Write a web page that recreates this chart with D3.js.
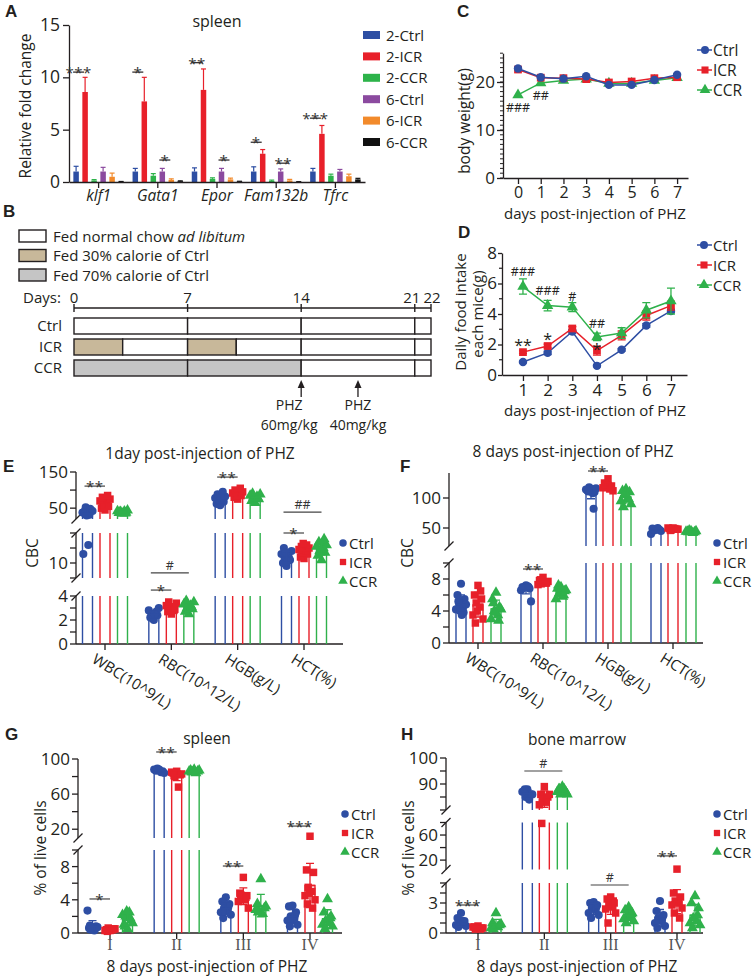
<!DOCTYPE html>
<html><head><meta charset="utf-8">
<script src="https://cdn.jsdelivr.net/npm/d3@7/dist/d3.min.js"></script>
<style>
html,body{margin:0;padding:0;background:#fff;}
svg{display:block;font-family:"Open Sans","Noto Sans",sans-serif;}
</style></head><body>
<svg id="fig" width="754" height="979"></svg>
<script>
// ================= DATA =================
// Panel A
const aGenes = ["klf1","Gata1","Epor","Fam132b","Tfrc"];
const aSeries = ["2-Ctrl","2-ICR","2-CCR","6-Ctrl","6-ICR","6-CCR"];
const a2Ctrl = [1.0,1.0,1.0,1.0,1.0];
const a2ICR  = [8.6,7.7,8.8,2.7,4.6];
const a2CCR  = [0.15,0.6,0.3,0.1,0.6];
const a6Ctrl = [1.0,1.0,1.0,1.0,1.0];
const a6ICR  = [0.5,0.2,0.25,0.15,0.55];
const a6CCR  = [0.03,0.08,0.05,0.02,0.25];
const a2CtrlErr = [0.5,0.3,0.35,0.45,0.3];
const a2ICRErr  = [1.4,2.3,2.0,0.4,0.8];
const a2CCRErr  = [0.08,0.2,0.1,0.08,0.15];
const a6CtrlErr = [0.4,0.3,0.3,0.25,0.2];
const a6ICRErr  = [0.35,0.1,0.12,0.1,0.2];
const a6CCRErr  = [0.02,0.03,0.02,0.01,0.1];
const aSigGene = [0,1,1,2,2,3,3,4];
const aSigFrom = [0,0,3,0,3,0,3,0];
const aSigTo   = [1,1,4,1,4,1,4,1];
const aSigY    = [10.5,10.5,2.1,11.4,2.1,3.8,1.8,6.1];
const aSigText = ["***","*","*","**","*","*","**","***"];

// Panel B
const bLegendText = ["Fed normal chow ","Fed 30% calorie of Ctrl","Fed 70% calorie of Ctrl"];
const bDays = [0,7,14,21,22];
const bGroups = ["Ctrl","ICR","CCR"];
const bCtrlBlocks = [[0,7,0],[7,14,0],[14,21,0],[21,22,0]];
const bICRBlocks  = [[0,3,1],[3,7,0],[7,10,1],[10,14,0],[14,21,0],[21,22,0]];
const bCCRBlocks  = [[0,7,2],[7,14,2],[14,21,0],[21,22,0]];
const bInjDay  = [14,17.5];
const bInjDose = ["60mg/kg","40mg/kg"];

// Panel C
const cDays = [0,1,2,3,4,5,6,7];
const cCtrl = [22.8,21.0,20.7,21.2,19.4,19.4,20.4,21.5];
const cICR  = [22.6,20.9,20.8,20.6,19.9,20.1,20.8,21.0];
const cCCR  = [17.3,19.8,20.3,20.6,19.7,19.7,20.3,20.9];
const cNoteDay = [0,1];
const cNoteY = [14.8,17.3];
const cNoteText = ["###","##"];

// Panel D
const dDays = [1,2,3,4,5,6,7];
const dCtrl = [0.85,1.45,2.85,0.6,1.65,3.25,4.2];
const dICR  = [1.5,1.9,3.05,1.6,2.6,3.9,4.55];
const dCCR  = [5.8,4.55,4.45,2.5,2.75,4.25,4.85];
const dCtrlErr = [0.06,0.12,0.1,0.06,0.08,0.12,0.1];
const dICRErr  = [0.08,0.12,0.12,0.3,0.3,0.3,0.3];
const dCCRErr  = [0.5,0.35,0.3,0.25,0.35,0.5,0.85];
const dNoteDay = [1,2,3,4,1,2,4];
const dNoteY = [6.8,5.57,5.18,3.4,2.1,2.5,1.84];
const dNoteText = ["###","###","#","##","**","*","*"];

// Panel E (1 day CBC)
const eCats = ["WBC(10^9/L)","RBC(10^12/L)","HGB(g/L)","HCT(%)"];
const eCtrl = [[36,40,45,52,32,38,42,35,48,30,16,13],[2.0,2.2,2.4,2.5,2.6,2.8,3.0,2.3,2.7,2.1,2.5],[58,62,68,72,75,78,82,88,95,70,76],[9,10,11,12,12.5,13,14,15,11.5,13.5,10.5]];
const eICR  = [[45,50,55,60,65,70,75,80,85,52],[2.5,2.7,2.9,3.0,3.1,3.2,3.4,3.5,2.8],[75,80,85,88,90,92,95,100,105,83],[11.5,12,13,13.5,14,14.5,15,15.5,16,16.5]];
const eCCR  = [[35,37,38,40,41,42,44,39,36],[2.5,2.7,2.9,3.0,3.2,3.3,3.5,3.6,3.1],[65,70,75,80,82,85,88,90,78],[11,12.5,13.5,14,15,15.5,16,17,18,14.5]];
const eSig = [[0,0,1,111,"**"],[1,0,2,6.7,"#"],[1,0,1,4.33,"*"],[2,0,1,136,"**"],[3,0,2,39,"##"],[3,0,1,20,"*"]];

// Panel F (8 days CBC)
const fCtrl = [[7.4,6.0,5.5,5.0,4.5,4.2,4.8,5.2,3.8,4.0,3.5],[7.2,7.0,6.8,6.9,7.1,6.6,5.2,6.9,7.0],[115,112,110,118,108,114,116,111,82],[48,49,47,46,50,40,45,48,47]];
const fICR  = [[7.2,6.0,5.5,5.0,4.5,3.5,3.0,2.5,6.5,4.0],[8.2,7.8,7.5,7.4,7.6,7.3,7.7,7.9,7.5],[132,125,120,118,115,117,112,122,119],[50,49,48,47,49,50,48,46]];
const fCCR  = [[6.3,5.5,4.5,4.0,3.5,3.0,4.2,5.0,2.8,3.8],[7.0,6.8,6.5,6.2,5.8,5.5,6.6,7.2,6.0],[115,112,110,105,100,95,90,85,98,108],[45,44,43,46,42,44,45,43]];
const fSig = [[1,0,1,9.25,"**"],[2,0,1,145,"**"]];

// Panel G (spleen)
const gCats = ["I","II","III","IV"];
const gCtrl = [[0.5,0.6,0.8,0.4,0.3,2.7,0.7,0.9,0.5,0.6],[88,87,86,89,85,88,84,87],[4.3,3.8,3.5,3.0,2.8,2.5,2.2,1.8,3.2,2.6],[3.3,3.2,2.5,2.0,1.8,1.5,1.0,0.8,2.2,1.6]];
const gICR  = [[0.3,0.4,0.5,0.6,0.4,0.3,0.5,0.2,0.4],[86,84,82,80,68,85,83,81],[6.7,4.8,4.5,4.2,4.0,3.8,3.0,4.6,4.3],[12,7.6,7.3,5.5,5.0,4.5,4.0,3.5,3.0,4.8]];
const gCCR  = [[0.5,1.0,1.5,2.0,2.5,2.2,1.2,0.8,1.8,2.6],[88,87,86,85,84,86,87,85],[6.5,3.5,3.0,2.6,2.3,2.8,3.2,2.5],[4.1,2.5,2.0,1.5,1.2,1.0,0.8,0.5,1.8]];
const gSig = [[0,0,1,4.1,"*"],[1,0,1,108,"**"],[2,0,1,8.07,"**"],[3,0,1,23.6,"***"]];

// Panel H (bone marrow)
const hCtrl = [[2.0,1.5,1.2,1.0,0.9,0.8,0.7,0.6,1.1],[88,87,86,85,84,87,86,88],[3.1,3.0,2.8,2.5,2.3,2.0,1.8,1.5,2.6],[3.2,2.2,1.8,1.5,1.2,1.0,0.7,0.5,1.6]];
const hICR  = [[0.7,0.6,0.5,0.5,0.4,0.6,0.5,0.4],[89,86,85,84,83,82,86,78.5],[3.6,3.4,3.0,2.8,2.6,2.4,2.0,1.0,3.2],[5.6,4.0,3.6,3.2,3.0,2.8,2.5,2.0,1.5]];
const hCCR  = [[2.0,1.0,0.8,0.7,0.6,0.5,0.9,0.4],[89,88,87,86,88,87,86,88],[2.6,2.3,2.0,1.8,1.6,1.4,1.2,1.0,1.9],[3.7,3.0,2.5,1.5,1.2,1.0,0.8,0.5,1.8]];
const hSig = [[0,0,1,2.8,"***"],[1,0,2,95,"#"],[2,0,2,4.8,"#"],[3,0,1,26.7,"**"]];

const groupNames = ["Ctrl","ICR","CCR"];

// ================= STYLE =================
const INK = "#231f20";
const FONT = "'Open Sans','Noto Sans',sans-serif";
const aColors = ["#2d4ea3","#e8202a","#2db34a","#8b4a9f","#f28a2b","#111111"];
const gColors = ["#2e4ea3","#e7202a","#2fb14b"];
const symbols = [d3.symbolCircle,d3.symbolSquare,d3.symbolTriangle];
const symSize = [52,56,52];
const svg = d3.select("#fig");

function text(g,x,y,s,size,anchor,extra){
  const t = g.append("text").attr("x",x).attr("y",y).attr("font-size",size)
    .attr("text-anchor",anchor||"start").attr("fill",INK).text(s);
  if(extra) extra(t);
  return t;
}
function letter(x,y,s){
  svg.append("text").attr("x",x).attr("y",y).attr("font-family","'Liberation Sans',Arial,sans-serif")
    .attr("font-weight","bold").attr("font-size",17).attr("fill",INK).text(s);
}
function styleAxis(sel,fs){
  sel.attr("font-family",FONT);
  sel.selectAll("path.domain").attr("stroke",INK).attr("stroke-width",1.3);
  sel.selectAll(".tick line").attr("stroke",INK).attr("stroke-width",1.3);
  sel.selectAll(".tick text").attr("fill",INK).attr("font-size",fs);
}
function sigText(g,x,y,t){
  const isStar = t.indexOf("*")>=0;
  text(g,x,isStar? y+6 : y-3, t, isStar?15:12.5,"middle", s=>s.attr("letter-spacing",isStar?0.5:0).attr("fill","#333"));
}

// ================= PANEL A =================
(function(){
  const g = svg.append("g");
  const x = d3.scaleBand().domain(aGenes).range([69,365]);
  const y = d3.scaleLinear().domain([0,15]).range([182,25]);
  const vals = [a2Ctrl,a2ICR,a2CCR,a6Ctrl,a6ICR,a6CCR];
  const errs = [a2CtrlErr,a2ICRErr,a2CCRErr,a6CtrlErr,a6ICRErr,a6CCRErr];
  const cx = (gi,si)=> x(aGenes[gi]) + x.bandwidth()/2 + (si-2.5)*9;
  vals.forEach((arr,si)=>{
    arr.forEach((v,gi)=>{
      const c = cx(gi,si), e = errs[si][gi];
      g.append("line").attr("x1",c).attr("x2",c).attr("y1",y(v)).attr("y2",y(v+e)).attr("stroke",aColors[si]).attr("stroke-width",1.2);
      g.append("line").attr("x1",c-2.5).attr("x2",c+2.5).attr("y1",y(v+e)).attr("y2",y(v+e)).attr("stroke",aColors[si]).attr("stroke-width",1.2);
      g.append("rect").attr("x",c-2.75).attr("y",y(v)).attr("width",5.5).attr("height",y(0)-y(v)).attr("fill",aColors[si]);
    });
  });
  const ya = g.append("g").attr("transform","translate(69,0)").call(d3.axisLeft(y).tickValues([0,5,10,15]).tickSize(6).tickSizeOuter(0).tickPadding(3));
  styleAxis(ya,17.5);
  const xa = g.append("g").attr("transform","translate(0,182)").call(d3.axisBottom(x).tickSize(6).tickSizeOuter(0).tickPadding(2));
  styleAxis(xa,15.5);
  xa.selectAll(".tick text").attr("font-style","italic");
  aSigText.forEach((t,i)=>{
    const x1 = cx(aSigGene[i],aSigFrom[i])-3, x2 = cx(aSigGene[i],aSigTo[i])-1;
    const yy = y(aSigY[i]);
    g.append("line").attr("x1",x1).attr("x2",x2).attr("y1",yy).attr("y2",yy).attr("stroke",INK).attr("stroke-width",1.2);
    sigText(g,(x1+x2)/2,yy,t);
  });
  text(g,217,27,"spleen",16,"middle");
  text(g,0,0,"Relative fold change",15.5,"middle",t=>t.attr("transform","translate(31,106) rotate(-90)"));
  aSeries.forEach((s,i)=>{
    const yy = 35 + i*21.4;
    g.append("rect").attr("x",363).attr("y",yy-4).attr("width",17).attr("height",8).attr("fill",aColors[i]);
    text(g,386,yy+5.5,s,15,"start");
  });
  letter(5,17,"A");
})();

// ================= PANEL B =================
(function(){
  const g = svg.append("g");
  const fills = ["#ffffff","#c8b89a","#c5c5c5"];
  bLegendText.forEach((s,i)=>{
    const yy = 236 + i*19.5;
    g.append("rect").attr("x",19).attr("y",yy-6).attr("width",27).attr("height",12).attr("fill",fills[i]).attr("stroke",INK).attr("stroke-width",1.4);
    const t = text(g,53,yy+5.5,s,15,"start");
    if(i===0) t.append("tspan").attr("font-style","italic").text("ad libitum");
  });
  const bx = d3.scaleLinear().domain([0,22]).range([74,431]);
  text(g,23,303,"Days:",15,"start");
  bDays.forEach(d=>{
    text(g,bx(d)+(d===21?-3:(d===22?1:0)),303,String(d),15,"middle");
    g.append("line").attr("x1",bx(d)).attr("x2",bx(d)).attr("y1",304).attr("y2",312).attr("stroke",INK).attr("stroke-width",1.4);
  });
  g.append("line").attr("x1",bx(0)).attr("x2",bx(22)).attr("y1",308).attr("y2",308).attr("stroke",INK).attr("stroke-width",1.4);
  [bCtrlBlocks,bICRBlocks,bCCRBlocks].forEach((blocks,ri)=>{
    const top = 318 + ri*21;
    text(g,62,top+13,bGroups[ri],15,"end");
    blocks.forEach(b=>{
      g.append("rect").attr("x",bx(b[0])).attr("y",top).attr("width",bx(b[1])-bx(b[0])).attr("height",16)
        .attr("fill",fills[b[2]]).attr("stroke",INK).attr("stroke-width",1.4);
    });
  });
  bInjDay.forEach((d,i)=>{
    const xx = bx(d);
    g.append("line").attr("x1",xx).attr("x2",xx).attr("y1",397).attr("y2",386).attr("stroke",INK).attr("stroke-width",1.3);
    g.append("path").attr("d",`M${xx},380L${xx-3.5},388L${xx+3.5},388Z`).attr("fill",INK);
    text(g,xx-(i===0?12:0),410,"PHZ",14,"middle");
    text(g,xx-(i===0?12:0),430,bInjDose[i],14,"middle");
  });
  letter(3,217,"B");
})();

// ================= PANEL C =================
(function(){
  const g = svg.append("g");
  const x = d3.scaleLinear().domain([-0.66,7.48]).range([503,688]);
  const y = d3.scaleLinear().domain([0,26]).range([178,53.2]);
  d3.range(0,27).forEach(v=>{
    g.append("line").attr("x1",500).attr("x2",503).attr("y1",y(v)).attr("y2",y(v)).attr("stroke",INK).attr("stroke-width",1);
  });
  const ya = g.append("g").attr("transform","translate(503,0)").call(d3.axisLeft(y).tickValues([0,10,20]).tickSize(6).tickSizeOuter(0).tickPadding(2));
  styleAxis(ya,17);
  const xa = g.append("g").attr("transform","translate(0,178)").call(d3.axisBottom(x).tickValues(cDays).tickSize(6).tickSizeOuter(0).tickPadding(3));
  styleAxis(xa,16);
  const series = [[cCCR,2],[cICR,1],[cCtrl,0]];
  series.forEach(([arr,si])=>{
    const line = d3.line().x((d,i)=>x(cDays[i])).y(d=>y(d));
    g.append("path").attr("d",line(arr)).attr("fill","none").attr("stroke",gColors[si]).attr("stroke-width",1.5);
    arr.forEach((v,i)=>{
      g.append("path").attr("d",d3.symbol(symbols[si],si===1?60:56)()).attr("transform",`translate(${x(cDays[i])},${y(v)})`).attr("fill",gColors[si]);
    });
  });
  cNoteText.forEach((t,i)=> text(g,x(cNoteDay[i]),y(cNoteY[i])+5,t,12.5,"middle"));
  text(g,0,0,"body weight(g)",15.5,"middle",t=>t.attr("transform","translate(470,121) rotate(-90)"));
  text(g,595,219,"days post-injection of PHZ",15,"middle");
  groupNames.forEach((s,i)=>{
    const yy = 50 + i*20;
    g.append("line").attr("x1",697).attr("x2",712).attr("y1",yy).attr("y2",yy).attr("stroke",gColors[i]).attr("stroke-width",1.5);
    g.append("path").attr("d",d3.symbol(symbols[i],50)()).attr("transform",`translate(705,${yy})`).attr("fill",gColors[i]);
    text(g,713,yy+6,s,15.5,"start");
  });
  letter(457,17,"C");
})();

// ================= PANEL D =================
(function(){
  const g = svg.append("g");
  const x = d3.scaleLinear().domain([0.15,7.65]).range([502,687]);
  const y = d3.scaleLinear().domain([0,8]).range([375,253]);
  [1,3,5,7].forEach(v=> g.append("line").attr("x1",499).attr("x2",502).attr("y1",y(v)).attr("y2",y(v)).attr("stroke",INK).attr("stroke-width",1.2));
  const ya = g.append("g").attr("transform","translate(502,0)").call(d3.axisLeft(y).tickValues([0,2,4,6,8]).tickSize(4).tickSizeOuter(0).tickPadding(1));
  styleAxis(ya,17);
  const xa = g.append("g").attr("transform","translate(0,375)").call(d3.axisBottom(x).tickValues(dDays).tickSize(6).tickSizeOuter(0).tickPadding(3));
  styleAxis(xa,17);
  const series = [[dCtrl,dCtrlErr,0],[dICR,dICRErr,1],[dCCR,dCCRErr,2]];
  series.forEach(([arr,err,si])=>{
    arr.forEach((v,i)=>{
      const xx = x(dDays[i]);
      g.append("path").attr("d",`M${xx},${y(v-err[i])}V${y(v+err[i])}M${xx-4},${y(v+err[i])}H${xx+4}M${xx-4},${y(v-err[i])}H${xx+4}`)
        .attr("stroke",gColors[si]).attr("stroke-width",1.3).attr("fill","none");
    });
    const line = d3.line().x((d,i)=>x(dDays[i])).y(d=>y(d));
    g.append("path").attr("d",line(arr)).attr("fill","none").attr("stroke",gColors[si]).attr("stroke-width",1.5);
    arr.forEach((v,i)=>{
      g.append("path").attr("d",d3.symbol(symbols[si],si===1?60:56)()).attr("transform",`translate(${x(dDays[i])},${y(v)})`).attr("fill",gColors[si]);
    });
  });
  dNoteText.forEach((t,i)=>{
    const isStar = t.indexOf("*")>=0;
    text(g,x(dNoteDay[i]),y(dNoteY[i])+(isStar?8:5),t,isStar?16:12.5,"middle");
  });
  text(g,0,0,"Daily food intake",15,"middle",t=>t.attr("transform","translate(466,312) rotate(-90)"));
  text(g,0,0,"each mice(g)",15,"middle",t=>t.attr("transform","translate(483,314) rotate(-90)"));
  text(g,595,416,"days post-injection of PHZ",15,"middle");
  groupNames.forEach((s,i)=>{
    const yy = 245 + i*20;
    g.append("line").attr("x1",697).attr("x2",712).attr("y1",yy).attr("y2",yy).attr("stroke",gColors[i]).attr("stroke-width",1.5);
    g.append("path").attr("d",d3.symbol(symbols[i],50)()).attr("transform",`translate(704,${yy})`).attr("fill",gColors[i]);
    text(g,713,yy+5.5,s,15,"start");
  });
  letter(458,238,"D");
})();

// ================= SCATTER-BAR PANELS =================
function segScale(segs){
  const sc = segs.map(s=>({d:s.d, r:s.r, f:d3.scaleLinear().domain(s.d).range(s.r)}));
  function y(v){
    for(let i=0;i<sc.length;i++){
      const s = sc[i];
      if(v>=s.d[0] && v<=s.d[1]) return s.f(v);
      if(v<s.d[0]){
        if(i===0) return s.f(v);
        const p = sc[i-1];
        return d3.scaleLinear().domain([p.d[1],s.d[0]]).range([p.r[1],s.r[0]])(v);
      }
    }
    return sc[sc.length-1].f(v);
  }
  y.segs = sc;
  return y;
}
const jit = [0,-3.5,3.5,-1.8,1.8,-5,5,-2.6,2.6,-0.8,0.8,-4.2,4.2];

function scatterBar(cfg){
  const g = svg.append("g");
  const ys = segScale(cfg.segs);
  const x = d3.scalePoint().domain(cfg.cats).range(cfg.xr);
  const ax = cfg.axisX, baseY = cfg.segs[0].r[0];
  const nseg = ys.segs.length;
  ys.segs.forEach((s,k)=>{
    const top = (k===nseg-1 && cfg.axisTop!=null) ? cfg.axisTop : s.r[1];
    g.append("line").attr("x1",ax).attr("x2",ax).attr("y1",s.r[0]).attr("y2",top).attr("stroke",INK).attr("stroke-width",1.3);
    cfg.segs[k].ticks.forEach(t=>{
      const yy = s.f(t);
      g.append("line").attr("x1",ax-6).attr("x2",ax).attr("y1",yy).attr("y2",yy).attr("stroke",INK).attr("stroke-width",1.3);
    });
    cfg.segs[k].labels.forEach(t=> text(g,ax-8,s.f(t)+6,String(t),17,"end"));
    const slash = yy => g.append("line").attr("x1",ax-4.5).attr("x2",ax+4.5).attr("y1",yy+4.5).attr("y2",yy-4.5).attr("stroke",INK).attr("stroke-width",1.3);
    if(k>0) slash(s.r[0]);
    if(k<nseg-1) slash(s.r[1]);
  });
  g.append("line").attr("x1",ax).attr("x2",cfg.xEnd).attr("y1",baseY).attr("y2",baseY).attr("stroke",INK).attr("stroke-width",1.3);
  cfg.cats.forEach(c=>{
    g.append("line").attr("x1",x(c)).attr("x2",x(c)).attr("y1",baseY).attr("y2",baseY+6).attr("stroke",INK).attr("stroke-width",1.3);
    if(cfg.rotated){
      text(g,0,0,c,15,"start",t=>t.attr("transform",`translate(${x(c)-14},${baseY+18}) rotate(32)`));
    } else {
      text(g,x(c),baseY+17,c,16,"middle",t=>t.attr("font-family","'Liberation Serif','DejaVu Serif',serif").attr("fill","#555"));
    }
  });
  const data = [cfg.ctrl,cfg.icr,cfg.ccr];
  const cxOf = (ci,si)=> x(cfg.cats[ci]) + cfg.off[si];
  data.forEach((grp,si)=>{
    grp.forEach((pts,ci)=>{
      const cx = cxOf(ci,si), hw = 5;
      const m = d3.mean(pts);
      let p = "";
      ys.segs.forEach(s=>{
        if(m<=s.d[0]) return;
        const topV = Math.min(m,s.d[1]);
        const yb = s.r[0], yt = s.f(topV);
        if(m<=s.d[1]) p += `M${cx-hw},${yb}V${yt}H${cx+hw}V${yb}`;
        else p += `M${cx-hw},${yb}V${yt}M${cx+hw},${yb}V${yt}`;
      });
      g.append("path").attr("d",p).attr("fill","none").attr("stroke",gColors[si]).attr("stroke-width",1.4);
    });
  });
  data.forEach((grp,si)=>{
    grp.forEach((pts,ci)=>{
      const cx = cxOf(ci,si);
      pts.forEach((v,k)=>{
        g.append("path").attr("d",d3.symbol(symbols[si],symSize[si])())
          .attr("transform",`translate(${cx+jit[k%jit.length]},${ys(v)})`).attr("fill",gColors[si]);
      });
    });
  });
  data.forEach((grp,si)=>{
    grp.forEach((pts,ci)=>{
      const cx = cxOf(ci,si);
      const m = d3.mean(pts), sd = d3.deviation(pts);
      const y1 = ys(m-sd), y2 = ys(m+sd), ym = ys(m);
      g.append("path").attr("d",`M${cx},${y1}V${y2}M${cx-4},${y2}H${cx+4}M${cx-4},${y1}H${cx+4}M${cx-5},${ym}H${cx+5}`)
        .attr("stroke",gColors[si]).attr("stroke-width",1.3).attr("fill","none");
    });
  });
  cfg.sig.forEach(([ci,a,b,v,t])=>{
    const x1 = cxOf(ci,a)-3, x2 = cxOf(ci,b);
    const yy = ys(v);
    g.append("line").attr("x1",x1).attr("x2",x2).attr("y1",yy).attr("y2",yy).attr("stroke","#444").attr("stroke-width",1.2);
    sigText(g,(x1+x2)/2,yy,t);
  });
  groupNames.forEach((s,i)=>{
    const yy = cfg.legY + i*19;
    g.append("path").attr("d",d3.symbol(symbols[i],i===0?44:40)()).attr("transform",`translate(${cfg.legX},${yy})`).attr("fill",gColors[i]);
    text(g,cfg.legX+6,yy+5.5,s,15,"start");
  });
  text(g,0,0,cfg.ylabel,15.5,"middle",t=>t.attr("transform",`translate(${cfg.ylabX},${cfg.ylabY}) rotate(-90)`));
  text(g,cfg.titleX,cfg.titleY,cfg.title,15.5,"middle");
  if(cfg.xtitle) text(g,cfg.titleX,972,cfg.xtitle,15.5,"middle");
}

scatterBar({
  cats:eCats, ctrl:eCtrl, icr:eICR, ccr:eCCR, sig:eSig, rotated:true,
  axisX:76, xEnd:343, xr:[105,304], off:[-17.5,0,17.5],
  segs:[{d:[0,4],r:[644,596],ticks:[0,1,2,3,4],labels:[0,2,4]},
        {d:[5,20],r:[578,533],ticks:[5,10,15,20],labels:[10]},
        {d:[20,150],r:[519,472],ticks:[50,100,150],labels:[50,150]}],
  legX:343, legY:543, ylabel:"CBC", ylabX:38, ylabY:553,
  title:"1day post-injection of PHZ", titleX:200, titleY:459
});
scatterBar({
  cats:eCats, ctrl:fCtrl, icr:fICR, ccr:fCCR, sig:fSig, rotated:true,
  axisX:449, xEnd:703, xr:[478,673], off:[-17,0,18],
  segs:[{d:[0,10],r:[643,563],ticks:[0,2,4,6,8,10],labels:[0,4,8]},
        {d:[20,145],r:[546,471],ticks:[50,100],labels:[50,100]}],
  axisTop:473,
  legX:717, legY:543, ylabel:"CBC", ylabX:413, ylabY:553,
  title:"8 days post-injection of PHZ", titleX:573, titleY:457
});
scatterBar({
  cats:gCats, ctrl:gCtrl, icr:gICR, ccr:gCCR, sig:gSig, rotated:false,
  axisX:78, xEnd:342, xr:[110,310], off:[-17.5,0,17.5],
  segs:[{d:[0,10],r:[933,850],ticks:[0,2,4,6,8,10],labels:[0,4,8]},
        {d:[10,100],r:[838,759],ticks:[20,40,60,80,100],labels:[20,60,100]}],
  legX:345, legY:814, ylabel:"% of live cells", ylabX:46, ylabY:848,
  title:"spleen", titleX:207, titleY:744, xtitle:"8 days post-injection of PHZ"
});
scatterBar({
  cats:gCats, ctrl:hCtrl, icr:hICR, ccr:hCCR, sig:hSig, rotated:false,
  axisX:446, xEnd:703, xr:[478,677], off:[-17,0,18],
  segs:[{d:[0,5],r:[933,883],ticks:[0,1,2,3,4,5],labels:[0,3]},
        {d:[5,80],r:[869.5,822.5],ticks:[20,40,60,80],labels:[20,60]},
        {d:[80,100],r:[810,758],ticks:[80,85,90,95,100],labels:[90,100]}],
  legX:717, legY:814, ylabel:"% of live cells", ylabX:414, ylabY:848,
  title:"bone marrow", titleX:577, titleY:745, xtitle:"8 days post-injection of PHZ"
});
letter(3,472,"E");
letter(400,472,"F");
letter(5,740,"G");
letter(401,740,"H");
</script>
</body></html>
